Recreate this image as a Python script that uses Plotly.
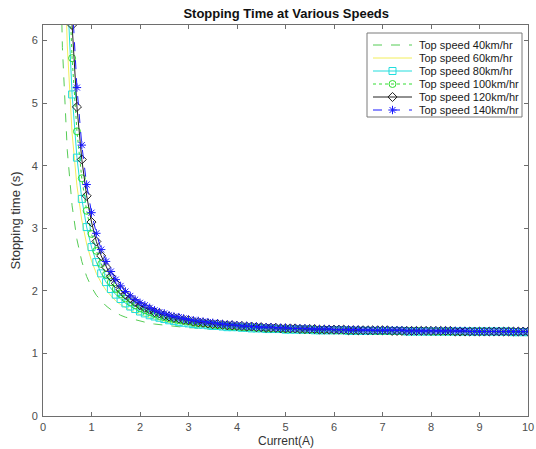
import plotly.graph_objects as go

current = [0.3, 0.4, 0.5, 0.6, 0.7, 0.8, 0.9,
           1.0, 1.1, 1.2, 1.3, 1.4, 1.5, 1.6, 1.7, 1.8, 1.9,
           2.0, 2.1, 2.2, 2.3, 2.4, 2.5, 2.6, 2.7, 2.8, 2.9,
           3.0, 3.1, 3.2, 3.3, 3.4, 3.5, 3.6, 3.7, 3.8, 3.9,
           4.0, 4.1, 4.2, 4.3, 4.4, 4.5, 4.6, 4.7, 4.8, 4.9,
           5.0, 5.1, 5.2, 5.3, 5.4, 5.5, 5.6, 5.7, 5.8, 5.9,
           6.0, 6.1, 6.2, 6.3, 6.4, 6.5, 6.6, 6.7, 6.8, 6.9,
           7.0, 7.1, 7.2, 7.3, 7.4, 7.5, 7.6, 7.7, 7.8, 7.9,
           8.0, 8.1, 8.2, 8.3, 8.4, 8.5, 8.6, 8.7, 8.8, 8.9,
           9.0, 9.1, 9.2, 9.3, 9.4, 9.5, 9.6, 9.7, 9.8, 9.9,
           10.0]

t_40 = [9.44, 5.89, 4.25, 3.36, 2.82, 2.47, 2.23,
        2.06, 1.93, 1.84, 1.76, 1.70, 1.65, 1.61, 1.58, 1.56, 1.53,
        1.51, 1.50, 1.48, 1.47, 1.46, 1.45, 1.44, 1.43, 1.42, 1.42,
        1.41, 1.41, 1.40, 1.40, 1.39, 1.39, 1.39, 1.38, 1.38, 1.38,
        1.38, 1.37, 1.37, 1.37, 1.37, 1.37, 1.36, 1.36, 1.36, 1.36,
        1.36, 1.36, 1.36, 1.36, 1.36, 1.35, 1.35, 1.35, 1.35, 1.35,
        1.35, 1.35, 1.35, 1.35, 1.35, 1.35, 1.35, 1.35, 1.35, 1.35,
        1.34, 1.34, 1.34, 1.34, 1.34, 1.34, 1.34, 1.34, 1.34, 1.34,
        1.34, 1.34, 1.34, 1.34, 1.34, 1.34, 1.34, 1.34, 1.34, 1.34,
        1.34, 1.34, 1.34, 1.34, 1.34, 1.34, 1.34, 1.34, 1.34, 1.34,
        1.34]

t_60 = [14.11, 8.52, 5.93, 4.52, 3.68, 3.13, 2.75,
        2.48, 2.28, 2.13, 2.01, 1.92, 1.84, 1.78, 1.73, 1.69, 1.65,
        1.62, 1.59, 1.57, 1.55, 1.53, 1.51, 1.50, 1.49, 1.48, 1.47,
        1.46, 1.45, 1.44, 1.44, 1.43, 1.42, 1.42, 1.41, 1.41, 1.41,
        1.40, 1.40, 1.40, 1.39, 1.39, 1.39, 1.38, 1.38, 1.38, 1.38,
        1.38, 1.37, 1.37, 1.37, 1.37, 1.37, 1.37, 1.37, 1.36, 1.36,
        1.36, 1.36, 1.36, 1.36, 1.36, 1.36, 1.36, 1.36, 1.36, 1.36,
        1.35, 1.35, 1.35, 1.35, 1.35, 1.35, 1.35, 1.35, 1.35, 1.35,
        1.35, 1.35, 1.35, 1.35, 1.35, 1.35, 1.35, 1.35, 1.35, 1.35,
        1.35, 1.35, 1.35, 1.35, 1.35, 1.35, 1.35, 1.35, 1.35, 1.35,
        1.34]

t_80 = [16.55, 9.89, 6.81, 5.14, 4.13, 3.47, 3.02,
        2.70, 2.46, 2.28, 2.14, 2.03, 1.94, 1.87, 1.80, 1.75, 1.71,
        1.67, 1.64, 1.61, 1.59, 1.57, 1.55, 1.53, 1.52, 1.50, 1.49,
        1.48, 1.47, 1.46, 1.46, 1.45, 1.44, 1.44, 1.43, 1.42, 1.42,
        1.42, 1.41, 1.41, 1.40, 1.40, 1.40, 1.39, 1.39, 1.39, 1.39,
        1.38, 1.38, 1.38, 1.38, 1.38, 1.38, 1.37, 1.37, 1.37, 1.37,
        1.37, 1.37, 1.37, 1.36, 1.36, 1.36, 1.36, 1.36, 1.36, 1.36,
        1.36, 1.36, 1.36, 1.36, 1.36, 1.35, 1.35, 1.35, 1.35, 1.35,
        1.35, 1.35, 1.35, 1.35, 1.35, 1.35, 1.35, 1.35, 1.35, 1.35,
        1.35, 1.35, 1.35, 1.35, 1.35, 1.35, 1.35, 1.34, 1.34, 1.34,
        1.34]

t_100 = [18.89, 11.21, 7.65, 5.72, 4.55, 3.80, 3.28,
         2.91, 2.64, 2.43, 2.26, 2.14, 2.03, 1.95, 1.88, 1.82, 1.77,
         1.72, 1.69, 1.66, 1.63, 1.60, 1.58, 1.56, 1.55, 1.53, 1.52,
         1.51, 1.49, 1.48, 1.48, 1.47, 1.46, 1.45, 1.45, 1.44, 1.43,
         1.43, 1.42, 1.42, 1.42, 1.41, 1.41, 1.40, 1.40, 1.40, 1.40,
         1.39, 1.39, 1.39, 1.39, 1.38, 1.38, 1.38, 1.38, 1.38, 1.38,
         1.37, 1.37, 1.37, 1.37, 1.37, 1.37, 1.37, 1.37, 1.36, 1.36,
         1.36, 1.36, 1.36, 1.36, 1.36, 1.36, 1.36, 1.36, 1.36, 1.36,
         1.35, 1.35, 1.35, 1.35, 1.35, 1.35, 1.35, 1.35, 1.35, 1.35,
         1.35, 1.35, 1.35, 1.35, 1.35, 1.35, 1.35, 1.35, 1.35, 1.35,
         1.35]

t_120 = [21.00, 12.39, 8.41, 6.25, 4.94, 4.10, 3.52,
         3.10, 2.79, 2.56, 2.38, 2.23, 2.12, 2.02, 1.94, 1.88, 1.82,
         1.77, 1.73, 1.70, 1.66, 1.64, 1.61, 1.59, 1.57, 1.56, 1.54,
         1.53, 1.51, 1.50, 1.49, 1.48, 1.47, 1.47, 1.46, 1.45, 1.45,
         1.44, 1.44, 1.43, 1.43, 1.42, 1.42, 1.41, 1.41, 1.41, 1.40,
         1.40, 1.40, 1.40, 1.39, 1.39, 1.39, 1.39, 1.38, 1.38, 1.38,
         1.38, 1.38, 1.38, 1.37, 1.37, 1.37, 1.37, 1.37, 1.37, 1.37,
         1.37, 1.37, 1.36, 1.36, 1.36, 1.36, 1.36, 1.36, 1.36, 1.36,
         1.36, 1.36, 1.36, 1.36, 1.36, 1.35, 1.35, 1.35, 1.35, 1.35,
         1.35, 1.35, 1.35, 1.35, 1.35, 1.35, 1.35, 1.35, 1.35, 1.35,
         1.35]

t_140 = [22.66, 13.33, 9.01, 6.66, 5.25, 4.33, 3.70,
         3.25, 2.92, 2.66, 2.47, 2.31, 2.18, 2.08, 1.99, 1.92, 1.86,
         1.81, 1.77, 1.73, 1.69, 1.66, 1.64, 1.61, 1.59, 1.58, 1.56,
         1.54, 1.53, 1.52, 1.51, 1.50, 1.49, 1.48, 1.47, 1.46, 1.46,
         1.45, 1.44, 1.44, 1.43, 1.43, 1.42, 1.42, 1.42, 1.41, 1.41,
         1.41, 1.40, 1.40, 1.40, 1.40, 1.39, 1.39, 1.39, 1.39, 1.39,
         1.38, 1.38, 1.38, 1.38, 1.38, 1.38, 1.37, 1.37, 1.37, 1.37,
         1.37, 1.37, 1.37, 1.37, 1.37, 1.36, 1.36, 1.36, 1.36, 1.36,
         1.36, 1.36, 1.36, 1.36, 1.36, 1.36, 1.36, 1.36, 1.35, 1.35,
         1.35, 1.35, 1.35, 1.35, 1.35, 1.35, 1.35, 1.35, 1.35, 1.35,
         1.35]

names = ["Top speed 40km/hr", "Top speed 60km/hr", "Top speed 80km/hr",
         "Top speed 100km/hr", "Top speed 120km/hr", "Top speed 140km/hr"]
series = [t_40, t_60, t_80, t_100, t_120, t_140]

styles = [
    dict(color="#55cc55", dash="dash", symbol=None),
    dict(color="#f2ee5a", dash="solid", symbol=None),
    dict(color="#22dddd", dash="solid", symbol="square-open"),
    dict(color="#33dd33", dash="dot", symbol="circle-open"),
    dict(color="#222222", dash="solid", symbol="diamond-open"),
    dict(color="#1a1aff", dash="dash", symbol="asterisk-open"),
]

fig = go.Figure()
for name, ys, st in zip(names, series, styles):
    kw = dict(x=current, y=ys, name=name, showlegend=False,
              line=dict(color=st["color"], width=1, dash=st["dash"]))
    if st["symbol"]:
        kw["mode"] = "lines+markers"
        kw["marker"] = dict(symbol=st["symbol"], size=7, color=st["color"],
                            line=dict(color=st["color"], width=1))
    else:
        kw["mode"] = "lines"
    fig.add_trace(go.Scatter(**kw))

# ---- MATLAB-style legend box drawn on an overlay axis in pixel units ----
PX_L, PX_R, PX_T, PX_B = 43, 528, 25, 416          # plot area in pixels
box_x0, box_x1, box_y0, box_y1 = 367, 522, 33, 117
fig.add_trace(go.Scatter(x=[box_x0, box_x1, box_x1, box_x0, box_x0],
                         y=[box_y0, box_y0, box_y1, box_y1, box_y0],
                         xaxis="x2", yaxis="y2", mode="lines", fill="toself",
                         fillcolor="white", line=dict(color="#7a7a7a", width=1),
                         hoverinfo="skip", showlegend=False))
row_y0, row_step = 45, 13
for i, (name, st) in enumerate(zip(names, styles)):
    yy = row_y0 + i * row_step
    fig.add_trace(go.Scatter(x=[373, 412], y=[yy, yy], xaxis="x2", yaxis="y2",
                             mode="lines", line=dict(color=st["color"], width=1, dash=st["dash"]),
                             hoverinfo="skip", showlegend=False))
    if st["symbol"]:
        fig.add_trace(go.Scatter(x=[392.5], y=[yy], xaxis="x2", yaxis="y2", mode="markers",
                                 marker=dict(symbol=st["symbol"], size=7, color=st["color"],
                                             line=dict(color=st["color"], width=1)),
                                 hoverinfo="skip", showlegend=False))
    fig.add_annotation(x=417, y=yy, xref="x2", yref="y2", text=name, showarrow=False,
                       xanchor="left", yanchor="middle",
                       font=dict(size=11, color="#1a1a1a"))

# x-axis title placed explicitly below the tick labels
fig.add_annotation(x=0.5, y=-(441 - PX_B) / (PX_B - PX_T), xref="paper", yref="paper",
                   text="Current(A)", showarrow=False, xanchor="center", yanchor="middle",
                   font=dict(size=12, color="#333333"), borderpad=0)

axis_common = dict(showline=True, linecolor="#6e6e6e", linewidth=1, mirror="ticks",
                   ticks="inside", ticklen=4, tickcolor="#6e6e6e", showgrid=False,
                   zeroline=False, automargin=False, tickfont=dict(size=11, color="#4d4d4d"))

fig.update_layout(
    width=536, height=449,
    margin=dict(l=PX_L, r=536 - PX_R, t=PX_T, b=449 - PX_B),
    paper_bgcolor="white", plot_bgcolor="white",
    font=dict(family="Liberation Sans, Arial, sans-serif", color="#333333"),
    title=dict(text="<b>Stopping Time at Various Speeds</b>", x=0.534, xanchor="center",
               y=0.971, yanchor="middle", font=dict(size=13, color="#111111")),
    xaxis=dict(range=[0, 10], dtick=1, tick0=0, ticklabelstandoff=1, **axis_common),
    yaxis=dict(range=[0, 6.25], dtick=1, tick0=0, ticklabelstandoff=2,
               title=dict(text="Stopping time (s)", font=dict(size=13, color="#333333"), standoff=8),
               **axis_common),
    xaxis2=dict(overlaying="x", anchor="y2", range=[PX_L, PX_R], visible=False, fixedrange=True),
    yaxis2=dict(overlaying="y", anchor="x2", range=[PX_B, PX_T], visible=False, fixedrange=True),
    showlegend=False,
)

fig.write_html("out.html")
